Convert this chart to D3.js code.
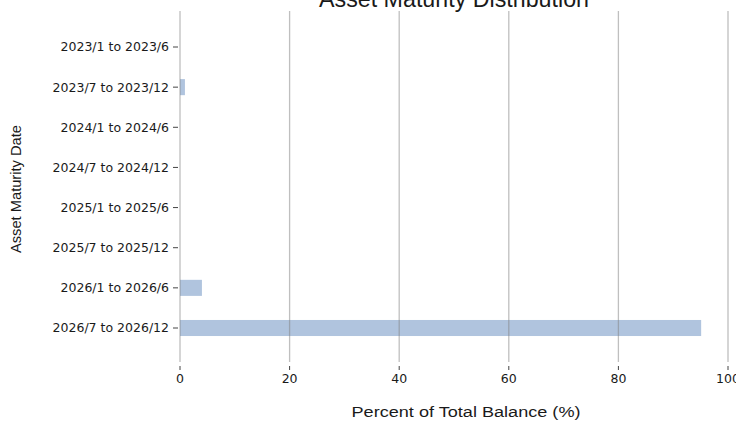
<!DOCTYPE html>
<html lang="en">
<head>
    <meta charset="UTF-8">
    <script src="https://d3js.org/d3.v7.min.js"></script>
    <style>
        body { margin: 0; background: #fff; }
        text { fill: #1a1a1a; }
    </style>
</head>
<body>
    <div id="chart"></div>

    <script>
        // maturity buckets, top to bottom
        var categories = [
            "2023/1 to 2023/6", "2023/7 to 2023/12",
            "2024/1 to 2024/6", "2024/7 to 2024/12",
            "2025/1 to 2025/6", "2025/7 to 2025/12",
            "2026/1 to 2026/6", "2026/7 to 2026/12"
        ];
        var percents = [0, 0.9, 0, 0, 0, 0, 4.0, 95.1];
        var xTicks = [0, 20, 40, 60, 80, 100];

        var width = 736, height = 421;
        var plot = { left: 180, right: 728, top: 11, bottom: 362 };

        var svg = d3.select("#chart")
            .append("svg")
            .attr("width", width)
            .attr("height", height);

        var x = d3.scaleLinear()
            .domain([0, 100])
            .range([plot.left, plot.right]);

        var y = d3.scalePoint()
            .domain(categories)
            .range([47, 328]);

        var barH = y.step() * 0.4;

        // bars
        svg.append("g")
            .selectAll("rect")
            .data(categories)
            .enter().append("rect")
            .attr("x", x(0))
            .attr("y", function (d) { return y(d) - barH / 2; })
            .attr("width", function (d, i) { return x(percents[i]) - x(0); })
            .attr("height", barH)
            .attr("fill", "#b0c4de");

        // vertical grid, drawn over the bars
        svg.append("g")
            .selectAll("line")
            .data(xTicks)
            .enter().append("line")
            .attr("x1", function (d) { return x(d); })
            .attr("x2", function (d) { return x(d); })
            .attr("y1", plot.top)
            .attr("y2", plot.bottom)
            .attr("stroke", "#7f7f7f")
            .attr("stroke-opacity", 0.5)
            .attr("stroke-width", 1.3);

        // x ticks and labels
        var xt = svg.append("g")
            .selectAll("g")
            .data(xTicks)
            .enter().append("g")
            .attr("transform", function (d) { return "translate(" + x(d) + ",0)"; });
        xt.append("line")
            .attr("y1", 366).attr("y2", 370)
            .attr("stroke", "#444").attr("stroke-width", 1);
        xt.append("text")
            .attr("y", 383)
            .attr("text-anchor", "middle")
            .style("font-family", "DejaVu Sans")
            .style("font-size", "12.5px")
            .text(function (d) { return d; });

        // y ticks and labels
        var yt = svg.append("g")
            .selectAll("g")
            .data(categories)
            .enter().append("g")
            .attr("transform", function (d) { return "translate(0," + y(d) + ")"; });
        yt.append("line")
            .attr("x1", 173).attr("x2", 178)
            .attr("stroke", "#444").attr("stroke-width", 1);
        yt.append("text")
            .attr("x", 169)
            .attr("dy", "0.35em")
            .attr("text-anchor", "end")
            .style("font-family", "DejaVu Sans")
            .style("font-size", "12.5px")
            .text(function (d) { return d; });

        // title, partly above the top edge
        svg.append("text")
            .attr("x", (plot.left + plot.right) / 2)
            .attr("y", 7)
            .attr("text-anchor", "middle")
            .style("font-family", "Liberation Sans")
            .style("font-size", "23px")
            .attr("textLength", 270)
            .attr("lengthAdjust", "spacingAndGlyphs")
            .text("Asset Maturity Distribution");

        // axis titles
        svg.append("text")
            .attr("x", 466)
            .attr("y", 417)
            .attr("text-anchor", "middle")
            .style("font-family", "Liberation Sans")
            .style("font-size", "15.5px")
            .attr("textLength", 229)
            .attr("lengthAdjust", "spacingAndGlyphs")
            .text("Percent of Total Balance (%)");

        svg.append("text")
            .attr("transform", "translate(21,189) rotate(-90)")
            .attr("text-anchor", "middle")
            .style("font-family", "Liberation Sans")
            .style("font-size", "15px")
            .attr("textLength", 128)
            .attr("lengthAdjust", "spacingAndGlyphs")
            .text("Asset Maturity Date");
    </script>
</body>
</html>
